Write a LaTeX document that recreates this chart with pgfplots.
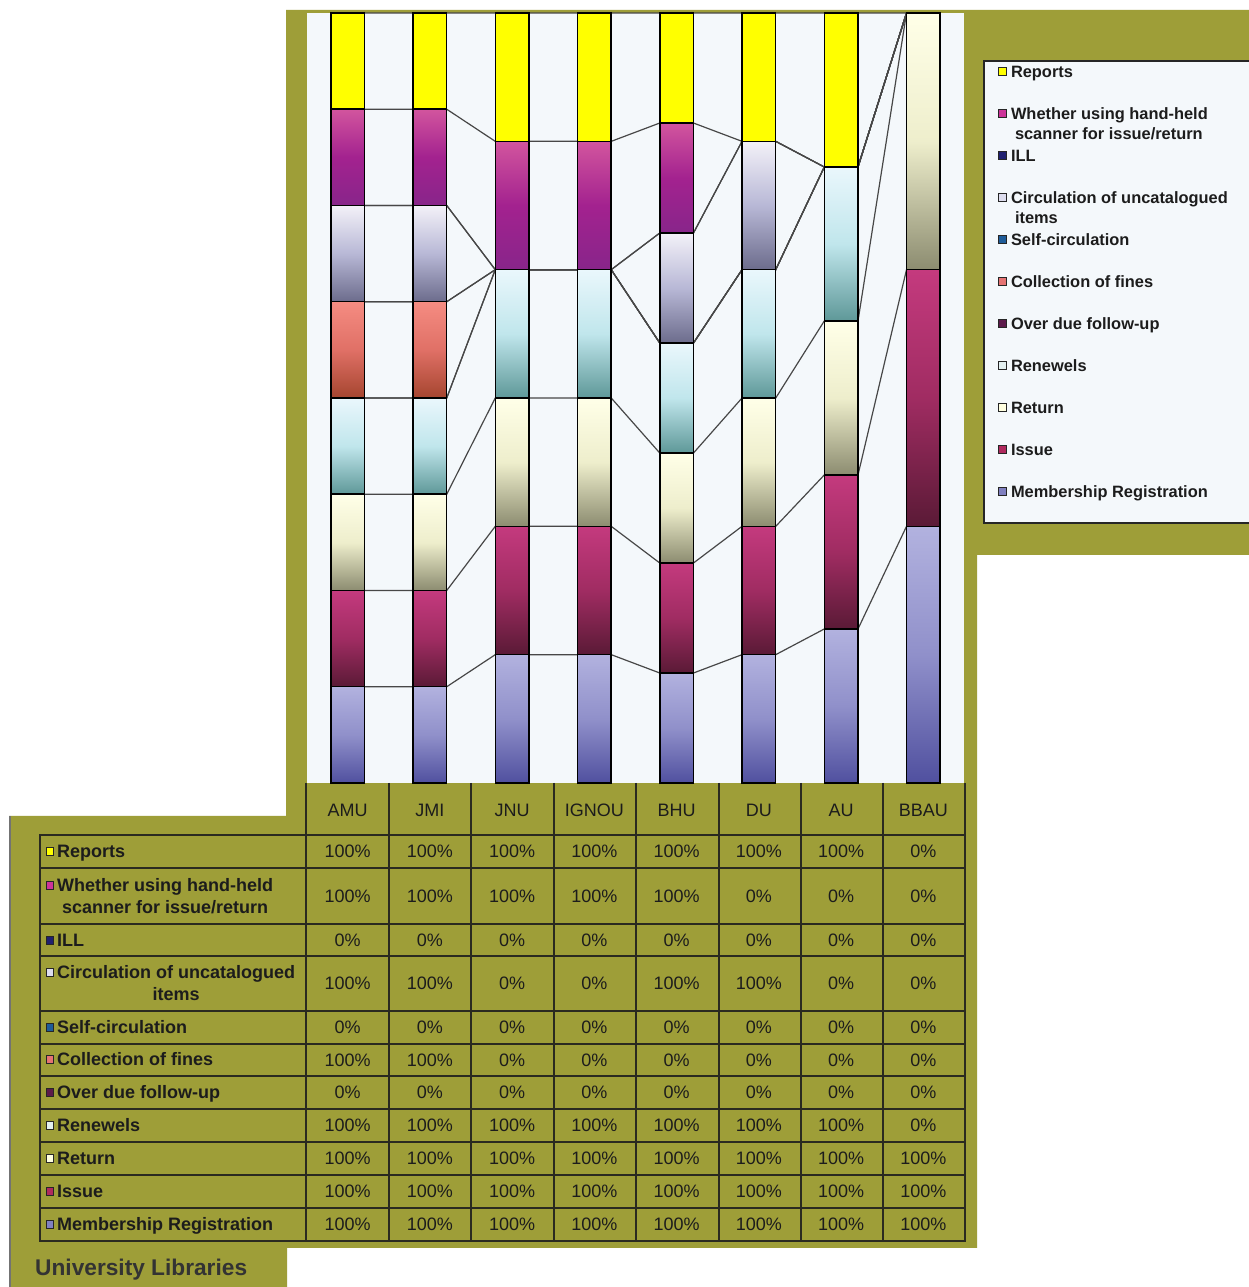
\documentclass[border=0pt]{standalone}
\usepackage{pgfplots}
\pgfplotsset{compat=1.18}
\usepackage{pgfplotstable}
\usepackage{fontspec}
\setmainfont{Liberation Sans}

\definecolor{olivebg}{HTML}{9E9E38}
\definecolor{plotbg}{HTML}{F4F8FB}
\definecolor{ink}{HTML}{1C1C1C}
\definecolor{gridc}{HTML}{2A2A20}
% marker colours
\definecolor{mReports}{HTML}{FFFF00}
\definecolor{mScanner}{HTML}{CC3399}
\definecolor{mILL}{HTML}{202070}
\definecolor{mUncat}{HTML}{DDDDEE}
\definecolor{mSelf}{HTML}{1F5C99}
\definecolor{mFines}{HTML}{E57373}
\definecolor{mOverdue}{HTML}{5C1A4A}
\definecolor{mRenew}{HTML}{E3F0F0}
\definecolor{mReturn}{HTML}{FFFFE0}
\definecolor{mIssue}{HTML}{B02A5E}
\definecolor{mMemb}{HTML}{8080C0}
% bar gradients
\definecolor{membT}{HTML}{B2B2DF}\definecolor{membM}{HTML}{9090CA}\definecolor{membB}{HTML}{50509F}
\definecolor{issT}{HTML}{C43A7E}\definecolor{issM}{HTML}{A02C62}\definecolor{issB}{HTML}{5A1A36}
\definecolor{retT}{HTML}{FFFFE8}\definecolor{retM}{HTML}{EEEECC}\definecolor{retB}{HTML}{8C8C70}
\definecolor{renT}{HTML}{EAF7FC}\definecolor{renM}{HTML}{C0E6EC}\definecolor{renB}{HTML}{5E9898}
\definecolor{finT}{HTML}{F58C82}\definecolor{finM}{HTML}{E07066}\definecolor{finB}{HTML}{A5452F}
\definecolor{uncT}{HTML}{F3F1F8}\definecolor{uncM}{HTML}{B8B8D6}\definecolor{uncB}{HTML}{6C6C8C}
\definecolor{scaT}{HTML}{D2559E}\definecolor{scaM}{HTML}{A3228F}\definecolor{scaB}{HTML}{88258A}

% values in per cent, one row per university (0=AMU ... 7=BBAU)
\pgfplotstableread{
x Memb Issue Return Renew Overdue Fines Self Uncat ILL Scanner Reports
0 100 100 100 100 0 100 0 100 0 100 100
1 100 100 100 100 0 100 0 100 0 100 100
2 100 100 100 100 0 0   0 0   0 100 100
3 100 100 100 100 0 0   0 0   0 100 100
4 100 100 100 100 0 0   0 100 0 100 100
5 100 100 100 100 0 0   0 100 0 0   100
6 100 100 100 100 0 0   0 0   0 0   100
7 100 100 100 0   0 0   0 0   0 0   0
}\data
\pgfplotstablecreatecol[create col/expr={\thisrow{Memb}+\thisrow{Issue}+\thisrow{Return}+\thisrow{Renew}+\thisrow{Overdue}+\thisrow{Fines}+\thisrow{Self}+\thisrow{Uncat}+\thisrow{ILL}+\thisrow{Scanner}+\thisrow{Reports}}]{tot}\data

% same values, each university at the left (s=-1) and right (s=1) bar edge, for the series lines
\pgfplotstableread{
c s Memb Issue Return Renew Overdue Fines Self Uncat ILL Scanner Reports
0 -1 100 100 100 100 0 100 0 100 0 100 100
0 1  100 100 100 100 0 100 0 100 0 100 100
1 -1 100 100 100 100 0 100 0 100 0 100 100
1 1  100 100 100 100 0 100 0 100 0 100 100
2 -1 100 100 100 100 0 0   0 0   0 100 100
2 1  100 100 100 100 0 0   0 0   0 100 100
3 -1 100 100 100 100 0 0   0 0   0 100 100
3 1  100 100 100 100 0 0   0 0   0 100 100
4 -1 100 100 100 100 0 0   0 100 0 100 100
4 1  100 100 100 100 0 0   0 100 0 100 100
5 -1 100 100 100 100 0 0   0 100 0 0   100
5 1  100 100 100 100 0 0   0 100 0 0   100
6 -1 100 100 100 100 0 0   0 0   0 0   100
6 1  100 100 100 100 0 0   0 0   0 0   100
7 -1 100 100 100 0   0 0   0 0   0 0   0
7 1  100 100 100 0   0 0   0 0   0 0   0
}\lines
\pgfplotstablecreatecol[create col/expr={\thisrow{Memb}+\thisrow{Issue}+\thisrow{Return}+\thisrow{Renew}+\thisrow{Overdue}+\thisrow{Fines}+\thisrow{Self}+\thisrow{Uncat}+\thisrow{ILL}+\thisrow{Scanner}+\thisrow{Reports}}]{tot}\lines

\newcommand{\tabfont}{\fontsize{18}{22}\selectfont}
\pgfplotsset{
  geom/.style={at={(306.5pt,504pt)}, anchor=south west, scale only axis,
    width=658pt, height=770pt, xmin=-0.5, xmax=7.5, ymin=0, ymax=100, hide axis},
  sline/.style={draw=black!72, line width=1.2pt, no marks},
  bars/.style={draw=black, line width=1.5pt},
  mk/.style={legend image code/.code={\draw[black!85,line width=0.8pt,fill=#1] (0pt,2pt) rectangle (8pt,10pt);}},
  % each bar segment gets its own vertical gradient: drawn as a node over the segment
  gbar/.style n args={4}{draw=none, fill=none, nodes near coords={}, nodes near coords align={anchor=north},
    visualization depends on={\thisrow{#1}/\thisrow{tot}*100 \as \hval},
    every node near coord/.style={anchor=north, inner sep=0pt, outer sep=0pt, minimum width=33.72pt,
      minimum height={\hval*7.7pt}, yshift={\hval*3.85pt}, draw=black, line width=1.5pt,
      /utils/exec={\ifdim\hval pt>0.01pt\relax\pgfkeysalso{top color=#2, bottom color=#4, middle color=#3}\else\pgfkeysalso{draw=none}\fi}}},
}
\newcommand{\serline}[1]{\addplot[sline] table[x expr=\thisrow{c}+0.205*\thisrow{s}, y expr=\thisrow{#1}/\thisrow{tot}*100]{\lines};}

\begin{document}
\begin{tikzpicture}
\useasboundingbox (0,0) rectangle (1249pt,1287pt);
\fill[white] (0,0) rectangle (1249pt,1287pt);
\begin{scope}[x=1pt,y=-1pt,shift={(0,1287pt)}]
  \fill[olivebg] (286,10) -- (1249,10) -- (1249,555) -- (977,555) -- (977,1248) -- (287,1248)
     -- (287,1287) -- (9,1287) -- (9,816) -- (286,816) -- cycle;
  \draw[black!55, line width=2pt] (10,816) -- (10,1287);
  \fill[plotbg] (307,13) rectangle (964,783);
  \filldraw[fill=plotbg, draw=black!85, line width=2pt] (984,61) rectangle (1262,523);
\end{scope}

% series lines
\begin{axis}[geom, stack plots=y]
\serline{Memb}\serline{Issue}\serline{Return}\serline{Renew}\serline{Overdue}\serline{Fines}\serline{Self}\serline{Uncat}\serline{ILL}\serline{Scanner}\serline{Reports}
\end{axis}

% stacked bars
\begin{axis}[geom, ybar stacked, bar width=0.41, reverse legend,
  legend style={at={(1.0509,0.9326)}, anchor=north west, draw=none, fill=none, inner sep=0pt,
    row sep=27pt, column sep=4pt, cells={anchor=base west}, text=ink,
    font=\bfseries\fontsize{16.4}{20}\selectfont,
    nodes={inner sep=0pt, text height=12pt, text depth=3pt}}]
\addplot[gbar={Memb}{membT}{membM}{membB}, mk=mMemb]
  table[x=x, y expr=\thisrow{Memb}/\thisrow{tot}*100]{\data};
\addlegendentry{Membership Registration}
\addplot[gbar={Issue}{issT}{issM}{issB}, mk=mIssue]
  table[x=x, y expr=\thisrow{Issue}/\thisrow{tot}*100]{\data};
\addlegendentry{Issue}
\addplot[gbar={Return}{retT}{retM}{retB}, mk=mReturn]
  table[x=x, y expr=\thisrow{Return}/\thisrow{tot}*100]{\data};
\addlegendentry{Return}
\addplot[gbar={Renew}{renT}{renM}{renB}, mk=mRenew]
  table[x=x, y expr=\thisrow{Renew}/\thisrow{tot}*100]{\data};
\addlegendentry{Renewels}
\addplot[draw=none, fill=none, mk=mOverdue]
  table[x=x, y expr=\thisrow{Overdue}/\thisrow{tot}*100]{\data};
\addlegendentry{Over due follow-up}
\addplot[gbar={Fines}{finT}{finM}{finB}, mk=mFines]
  table[x=x, y expr=\thisrow{Fines}/\thisrow{tot}*100]{\data};
\addlegendentry{Collection of fines}
\addplot[draw=none, fill=none, mk=mSelf]
  table[x=x, y expr=\thisrow{Self}/\thisrow{tot}*100]{\data};
\addlegendentry{Self-circulation}
\addplot[gbar={Uncat}{uncT}{uncM}{uncB}, mk=mUncat]
  table[x=x, y expr=\thisrow{Uncat}/\thisrow{tot}*100]{\data};
\addlegendentry{\smash{\begin{tabular}[t]{@{}l@{}}Circulation of uncatalogued\\\hspace{4pt}items\end{tabular}}}
\addplot[draw=none, fill=none, mk=mILL]
  table[x=x, y expr=\thisrow{ILL}/\thisrow{tot}*100]{\data};
\addlegendentry{ILL}
\addplot[gbar={Scanner}{scaT}{scaM}{scaB}, mk=mScanner]
  table[x=x, y expr=\thisrow{Scanner}/\thisrow{tot}*100]{\data};
\addlegendentry{\smash{\begin{tabular}[t]{@{}l@{}}Whether using hand-held\\\hspace{4pt}scanner for issue/return\end{tabular}}}
\addplot[bars, fill=mReports, mk=mReports]
  table[x=x, y expr=\thisrow{Reports}/\thisrow{tot}*100]{\data};
\addlegendentry{Reports}
\end{axis}

% data table
\begin{scope}[x=1pt,y=-1pt,shift={(0,1287pt)}]
  \foreach \xx in {306,389,471,554,636,719,801,883,965} \draw[gridc, line width=1.3pt] (\xx,783) -- (\xx,835);
  \foreach \yy in {868,924,956,1011,1044,1076,1142,1175,1208} \draw[gridc, line width=1.3pt] (40,\yy) -- (965,\yy);
  \draw[gridc, line width=2.4pt] (40,1109) -- (965,1109);
  \foreach \xx in {306,389,471,554,636,719,801,883} \draw[gridc, line width=1.3pt] (\xx,835) -- (\xx,1241);
  \draw[gridc, line width=2.4pt] (40,835) rectangle (965,1241);
  % header
  \foreach \n [count=\i from 0] in {AMU,JMI,JNU,IGNOU,BHU,DU,AU,BBAU}
    \node[ink, font=\tabfont, inner sep=0pt] at ({347.6+82.25*\i},810) {\n};
  % values
  \foreach \col/\yy in {Reports/851.5, Scanner/896, ILL/940, Uncat/983.5, Self/1027.5, Fines/1060,
      Overdue/1092.5, Renew/1125.5, Return/1158.5, Issue/1191.5, Memb/1224.5}{
    \foreach \r in {0,...,7}{
      \pgfplotstablegetelem{\r}{\col}\of\data
      \node[ink, font=\tabfont, inner sep=0pt] at ({347.6+82.25*\r},\yy) {\pgfplotsretval\%};
    }
  }
  % row labels
  \foreach \c/\yy/\t in {mReports/851/Reports, mILL/940/ILL, mSelf/1027/Self-circulation,
      mFines/1059/Collection of fines, mOverdue/1092/Over due follow-up, mRenew/1125/Renewels,
      mReturn/1158/Return, mIssue/1191/Issue, mMemb/1224/Membership Registration}{
    \filldraw[fill=\c, draw=black!85, line width=0.8pt] (46,\yy-4) rectangle (53,\yy+4);
    \node[ink, font=\bfseries\tabfont, inner sep=0pt, anchor=base west] at (57,\yy+6.4) {\t};
  }
  \filldraw[fill=mScanner, draw=black!85, line width=0.8pt] (46,881) rectangle (53,889);
  \node[ink, font=\bfseries\tabfont, inner sep=0pt, anchor=base west] at (57,891.4)
    {\begin{tabular}[t]{@{}c@{}}Whether using hand-held\\scanner for issue/return\end{tabular}};
  \filldraw[fill=mUncat, draw=black!85, line width=0.8pt] (46,968) rectangle (53,976);
  \node[ink, font=\bfseries\tabfont, inner sep=0pt, anchor=base west] at (57,978.4)
    {\begin{tabular}[t]{@{}c@{}}Circulation of uncatalogued\\items\end{tabular}};
  % footer title
  \node[black!80, font=\bfseries\fontsize{22.7}{26}\selectfont, inner sep=0pt, anchor=base west] at (35,1276) {University Libraries};
\end{scope}
\end{tikzpicture}
\end{document}
